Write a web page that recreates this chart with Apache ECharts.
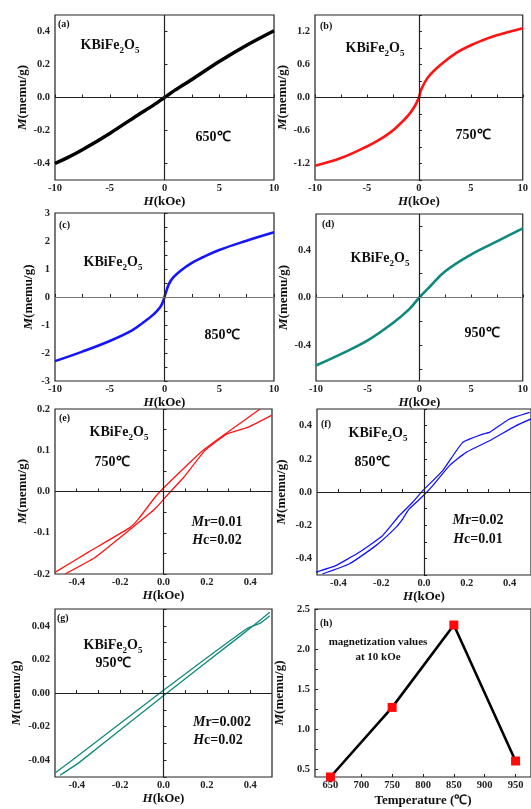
<!DOCTYPE html>
<html>
<head>
<meta charset="utf-8">
<script src="https://cdn.jsdelivr.net/npm/echarts@6/dist/echarts.min.js"></script>
<style>
html, body { margin: 0; padding: 0; background: #fff; }
#chart { width: 531px; height: 809px; }
</style>
</head>
<body>
<div id="chart"></div>
<script>
// (a) 650℃, M-H at +-10 kOe
var aH = [-10, -8.9, -7.5, -5, -2.5, -1, 0, 1, 2.5, 5, 7.5, 10];
var aM = [-0.40, -0.366, -0.317, -0.218, -0.109, -0.046, 0, 0.046, 0.109, 0.218, 0.317, 0.405];
// (b) 750℃
var bH = [-10, -7.5, -5, -4, -3, -2.2, -1, -0.37, 0, 0.24, 0.85, 2.07, 3.6, 5, 6, 7.5, 10];
var bM = [-1.24, -1.10, -0.89, -0.79, -0.67, -0.55, -0.32, -0.15, 0, 0.15, 0.36, 0.59, 0.81, 0.95, 1.03, 1.13, 1.26];
// (c) 850℃
var cH = [-10, -7.5, -5, -3, -2, -1, -0.4, -0.1, 0.1, 0.4, 0.8, 1.5, 2.5, 3.5, 5, 7.5, 10];
var cM = [-2.29, -1.95, -1.57, -1.2, -0.93, -0.62, -0.37, -0.12, 0.13, 0.46, 0.70, 0.95, 1.22, 1.42, 1.68, 2.01, 2.31];
// (d) 950℃
var dH = [-10, -7.5, -5, -2.5, -1, 0, 1, 2.5, 5, 7.5, 10];
var dM = [-0.57, -0.47, -0.36, -0.21, -0.10, 0, 0.09, 0.22, 0.36, 0.47, 0.58];
// (e) 750℃ low field loop, two branches
var eUpH = [0.445, 0.36, 0.291, 0.176, 0.107, 0.007, -0.039, -0.116, -0.154, -0.346, -0.5];
var eUpM = [0.2, 0.168, 0.142, 0.097, 0.063, 0.012, -0.014, -0.067, -0.087, -0.147, -0.196];
var eDnH = [-0.454, -0.316, -0.147, -0.039, 0.022, 0.084, 0.099, 0.191, 0.291, 0.391, 0.5];
var eDnM = [-0.2, -0.160, -0.089, -0.042, -0.006, 0.029, 0.038, 0.099, 0.139, 0.156, 0.185];
// (f) 850℃ low field loop
var fUpH = [0.494, 0.4, 0.306, 0.275, 0.181, 0.0875, -0.006, -0.053, -0.116, -0.194, -0.303, -0.413, -0.506];
var fUpM = [0.48, 0.44, 0.359, 0.349, 0.299, 0.129, 0.008, -0.062, -0.143, -0.263, -0.363, -0.444, -0.484];
var fDnH = [-0.475, -0.35, -0.225, -0.131, -0.1, -0.069, -0.006, 0.041, 0.119, 0.197, 0.306, 0.431, 0.5];
var fDnM = [-0.494, -0.434, -0.323, -0.213, -0.163, -0.102, -0.026, 0.038, 0.159, 0.239, 0.309, 0.40, 0.44];
// (g) 950℃ low field loop
var gUpH = [0.49, 0.446, 0.385, 0, -0.4, -0.5];
var gUpM = [0.046, 0.0416, 0.0384, 0.0016, -0.038, -0.0476];
var gDnH = [-0.477, -0.385, 0, 0.354, 0.49];
var gDnM = [-0.049, -0.041, -0.0016, 0.034, 0.048];
// (h) magnetization at 10 kOe
var hTemp = [650, 750, 850, 950];
var hMag = [0.40, 1.27, 2.30, 0.60];

// tick labels
var bigH = [-10, -5, 0, 5, 10];
var bigHTicks = [-10, -7.5, -5, -2.5, 0, 2.5, 5, 7.5, 10];
var smallH = [-0.4, -0.2, 0, 0.2, 0.4];
var smallHTicks = [-0.4, -0.3, -0.2, -0.1, 0, 0.1, 0.2, 0.3, 0.4];
var aTicks = [-0.4, -0.2, 0, 0.2, 0.4];
var bTicks = [-1.2, -0.6, 0, 0.6, 1.2];
var cTicks = [-3, -2, -1, 0, 1, 2, 3];
var dTicks = [-0.4, 0, 0.4];
var eTicks = [-0.2, -0.1, 0, 0.1, 0.2];
var fTicks = [-0.4, -0.2, 0, 0.2, 0.4];
var gTicks = [-0.04, -0.02, 0, 0.02, 0.04];
var hXTicks = [650, 700, 750, 800, 850, 900, 950];
var hYTicks = [0.5, 1.0, 1.5, 2.0, 2.5];

var FONT = '"Liberation Serif", "Times New Roman", serif';

function zip(xs, ys) {
  return xs.map(function (x, i) { return [x, ys[i]]; });
}

var grids = [], xAxes = [], yAxes = [], series = [], graphics = [];

function nameStyle(size) {
  return {
    fontSize: size, fontWeight: 'bold', fontFamily: FONT, color: '#111',
    rich: { i: { fontSize: size, fontWeight: 'bold', fontStyle: 'italic', fontFamily: FONT, color: '#111' } }
  };
}

function panel(g, xr, xl, xt, xd, yr, yl, yt, yd, yGap, xName, xGap) {
  var i = grids.length;
  grids.push({ left: g[0], top: g[1], width: g[2], height: g[3], show: true,
    borderColor: '#222', borderWidth: 1.2, backgroundColor: 'transparent' });
  xAxes.push({
    type: 'value', gridIndex: i, min: xr[0], max: xr[1],
    name: xName || '{i|H}(kOe)', nameLocation: 'middle', nameGap: xGap || 14,
    nameTextStyle: nameStyle(13),
    axisLine: { show: false }, splitLine: { show: false },
    axisTick: { show: true, inside: true, length: 3, customValues: xt, lineStyle: { color: '#222' } },
    axisLabel: { customValues: xl, margin: 3, fontSize: 10.5, fontWeight: 'bold', fontFamily: FONT, color: '#222',
      formatter: function (v) { return xd < 0 ? String(v) : v.toFixed(xd); } }
  });
  yAxes.push({
    type: 'value', gridIndex: i, min: yr[0], max: yr[1],
    name: '{i|M}(memu/g)', nameLocation: 'middle', nameGap: yGap,
    nameTextStyle: nameStyle(13),
    axisLine: { show: false }, splitLine: { show: false },
    axisTick: { show: true, inside: true, length: 3, customValues: yt, lineStyle: { color: '#222' } },
    axisLabel: { customValues: yl, margin: 5, fontSize: 10.5, fontWeight: 'bold', fontFamily: FONT, color: '#222',
      formatter: function (v) { return yd < 0 ? String(v) : v.toFixed(yd); } }
  });
  return i;
}

function curve(i, data, color, width, zero, hLineColor, smooth) {
  var s = {
    type: 'line', xAxisIndex: i, yAxisIndex: i, data: data, showSymbol: false,
    smooth: smooth, lineStyle: { color: color, width: width }, z: 3
  };
  if (zero) {
    s.markLine = {
      silent: true, symbol: 'none', label: { show: false },
      lineStyle: { color: '#222', width: 1.2, type: 'solid' },
      data: [{ xAxis: 0 }, { yAxis: 0, lineStyle: { color: hLineColor || '#222', width: hLineColor ? 1 : 1.2, type: 'solid' } }]
    };
  }
  series.push(s);
}

function txt(x, y, text, size, align) {
  graphics.push({
    type: 'text', x: x, y: y, z: 10,
    style: {
      text: text, align: align || 'center', verticalAlign: 'middle',
      fontSize: size, fontWeight: 'bold', fontFamily: FONT, fill: '#111',
      rich: {
        n: { fontSize: size, fontWeight: 'bold', fontFamily: FONT, lineHeight: 20, verticalAlign: 'middle' },
        s: { fontSize: Math.round(size * 0.62), fontWeight: 'bold', fontFamily: FONT, lineHeight: 20, verticalAlign: 'bottom' },
        i: { fontSize: size, fontWeight: 'bold', fontStyle: 'italic', fontFamily: FONT }
      }
    }
  });
}
var formula = '{n|KBiFe}{s|2}{n|O}{s|5}';

// (a)
var pa = panel([55, 15, 219, 165], [-10, 10], bigH, bigHTicks, -1, [-0.5, 0.5], aTicks, aTicks, 1, 16);
curve(pa, zip(aH, aM), '#000', 3.4, true, null, 0.3);
txt(58, 24, '(a)', 10, 'left'); txt(110, 45, formula, 14); txt(213, 137, '650℃', 14);
// (b)
var pb = panel([315, 15, 219, 165], [-10, 10], bigH, bigHTicks, -1, [-1.5, 1.5], bTicks, [-1.5, -1.2, -0.9, -0.6, -0.3, 0, 0.3, 0.6, 0.9, 1.2, 1.5], 1, 25);
curve(pb, zip(bH, bM), '#ff1414', 2.6, true, null, 0.4);
txt(320, 26, '(b)', 10, 'left'); txt(375, 48, formula, 14); txt(473, 135, '750℃', 14);
// (c)
var pc = panel([55, 213, 219, 168], [-10, 10], bigH, bigHTicks, -1, [-3, 3], cTicks, [-3, -2.5, -2, -1.5, -1, -0.5, 0, 0.5, 1, 1.5, 2, 2.5, 3], -1, 20);
curve(pc, zip(cH, cM), '#1414ff', 2.6, true, '#777', 0.4);
txt(59, 225, '(c)', 10, 'left'); txt(113, 262, formula, 14); txt(222, 335, '850℃', 14);
// (d)
var pd = panel([316, 214, 218, 167], [-10, 10], bigH, bigHTicks, -1, [-0.7, 0.7], dTicks, [-0.6, -0.4, -0.2, 0, 0.2, 0.4, 0.6], 1, 23);
curve(pd, zip(dH, dM), '#0f897b', 2.6, true, '#777', 0.4);
txt(322, 224, '(d)', 10, 'left'); txt(380, 258, formula, 14); txt(482, 333, '950℃', 14);
// (e)
var pe = panel([55, 409, 217, 165], [-0.5, 0.5], smallH, smallHTicks, 1, [-0.2, 0.2], eTicks, [-0.2, -0.15, -0.1, -0.05, 0, 0.05, 0.1, 0.15, 0.2], 1, 26);
curve(pe, zip(eUpH, eUpM), '#ff1414', 1.3, true, null, 0.15);
curve(pe, zip(eDnH, eDnM), '#ff1414', 1.3, false, null, 0.15);
txt(59, 418, '(e)', 10, 'left'); txt(119, 432, formula, 14); txt(112, 462, '750℃', 14);
txt(217, 522, '{i|M}r=0.01', 14); txt(217, 540, '{i|H}c=0.02', 14);
// (f)
var pf = panel([317, 409, 214, 166], [-0.5, 0.5], smallH, smallHTicks, 1, [-0.5, 0.5], fTicks, [-0.5, -0.4, -0.3, -0.2, -0.1, 0, 0.1, 0.2, 0.3, 0.4, 0.5], 1, 29);
curve(pf, zip(fUpH, fUpM), '#1414ff', 1.3, true, null, 0.15);
curve(pf, zip(fDnH, fDnM), '#1414ff', 1.3, false, null, 0.15);
txt(321, 424, '(f)', 10, 'left'); txt(378, 433, formula, 14); txt(372, 462, '850℃', 14);
txt(478, 520, '{i|M}r=0.02', 14); txt(478, 539, '{i|H}c=0.01', 14);
// (g)
var pg = panel([55, 609, 217, 168], [-0.5, 0.5], smallH, smallHTicks, 1, [-0.05, 0.05], gTicks, [-0.05, -0.04, -0.03, -0.02, -0.01, 0, 0.01, 0.02, 0.03, 0.04, 0.05], 2, 32);
curve(pg, zip(gUpH, gUpM), '#0f897b', 1.3, true, null, 0.15);
curve(pg, zip(gDnH, gDnM), '#0f897b', 1.3, false, null, 0.15);
txt(57, 618, '(g)', 10, 'left'); txt(113, 645, formula, 14); txt(113, 663, '950℃', 14);
txt(222, 722, '{i|M}r=0.002', 14); txt(218, 740, '{i|H}c=0.02', 14);
// (h)
var ph = panel([315, 609, 220, 168], [625, 975], hXTicks, hXTicks, -1, [0.4, 2.5], hYTicks, [0.5, 0.75, 1.0, 1.25, 1.5, 1.75, 2.0, 2.25, 2.5], 1, 29, 'Temperature (℃)', 17);
series.push({
  type: 'line', xAxisIndex: ph, yAxisIndex: ph, data: zip(hTemp, hMag),
  symbol: 'rect', symbolSize: 9, showSymbol: true,
  lineStyle: { color: '#000', width: 2.6 }, itemStyle: { color: '#ff0a0a' }, z: 3
});
txt(320, 623, '(h)', 10, 'left');
txt(378, 642, 'magnetization values', 11); txt(378, 657, 'at 10 kOe', 11);

var chart = echarts.init(document.getElementById('chart'));
chart.setOption({
  animation: false,
  backgroundColor: '#fff',
  textStyle: { fontFamily: FONT },
  grid: grids,
  xAxis: xAxes,
  yAxis: yAxes,
  series: series,
  graphic: graphics
});
</script>
</body>
</html>
